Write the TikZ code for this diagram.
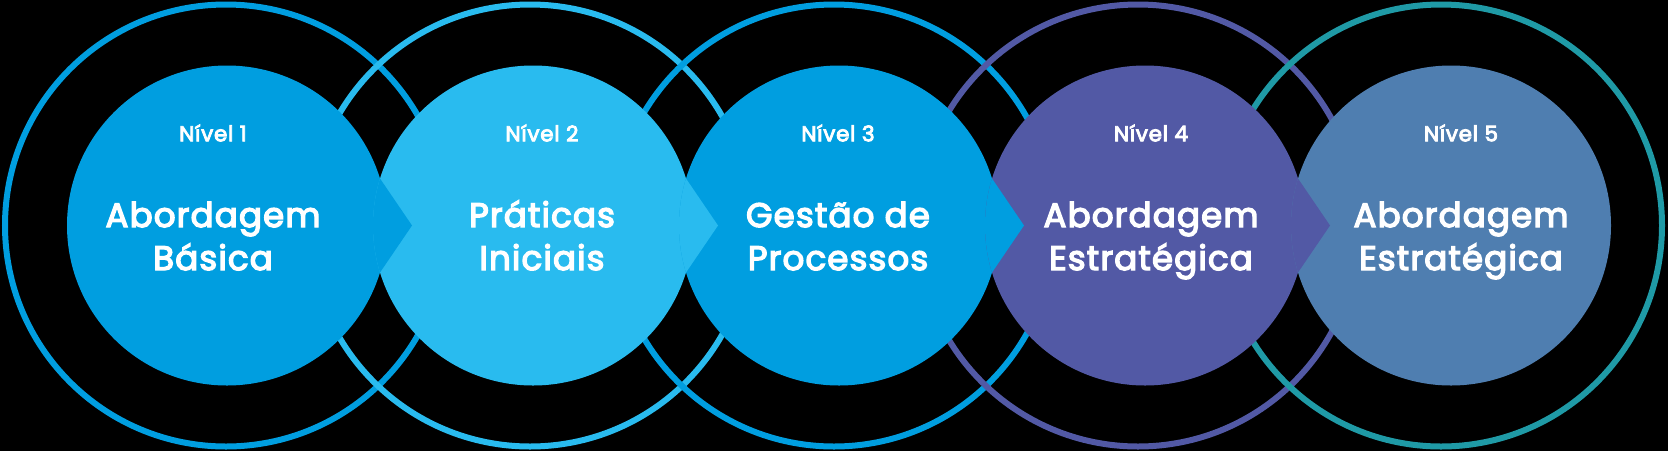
\documentclass[tikz,border=0pt]{standalone}
\usepackage{fontspec}
\setmainfont{Poppins}
\newfontfamily\labelfont{Poppins}[FakeBold=4,LetterSpace=3.5]
\usetikzlibrary{calc}

\definecolor{blueA}{HTML}{009EE0}
\definecolor{blueB}{HTML}{29BBEF}
\definecolor{purpleD}{HTML}{5259A5}
\definecolor{steelE}{HTML}{4F7EB0}
\definecolor{tealE}{HTML}{1F9AA6}

\tikzset{
  ring/.style={line width=6pt},
  level/.style={white,font=\labelfont\fontsize{21.5}{26}\selectfont},
  title/.style={white,anchor=base,font=\labelfont\fontsize{34}{40}\selectfont}
}

\begin{document}
\begin{tikzpicture}[x=1pt,y=-1pt]
\def\R{221}
\def\r{160}
\def\tip{32}
\def\notch{47}

\fill[black] (0,0) rectangle (1668,451);
\useasboundingbox (0,0) rectangle (1668,451);

% ring centres
\coordinate (R1) at (226,225.5);
\coordinate (R2) at (530,225.5);
\coordinate (R3) at (834,225.5);
\coordinate (R4) at (1138,225.5);
\coordinate (R5) at (1441,225.5);

% disc centres
\coordinate (C1) at (227,225.5);
\coordinate (C2) at (533,225.5);
\coordinate (C3) at (839,225.5);
\coordinate (C4) at (1145,225.5);
\coordinate (C5) at (1451,225.5);

\draw[ring,blueA]   (R1) circle[radius=\R];
\draw[ring,blueB]   (R2) circle[radius=\R];
\draw[ring,blueA]   (R3) circle[radius=\R];
\draw[ring,purpleD] (R4) circle[radius=\R];
\draw[ring,tealE]   (R5) circle[radius=\R];

\fill[blueA]   (C1) circle[radius=\r];
\fill[blueB]   (C2) circle[radius=\r];
\begin{scope}
  \clip (C2) circle[radius=\r];
  \fill[blueA] ($(C1)!0.5!(C2)+(0,-\notch)$) -- ($(C1)!0.5!(C2)+(\tip,0)$)
    -- ($(C1)!0.5!(C2)+(0,\notch)$) -- ++(-30,0) -- ++(0,-94) -- cycle;
\end{scope}
\fill[blueA]   (C3) circle[radius=\r];
\begin{scope}
  \clip (C3) circle[radius=\r];
  \fill[blueB] ($(C2)!0.5!(C3)+(0,-\notch)$) -- ($(C2)!0.5!(C3)+(\tip,0)$)
    -- ($(C2)!0.5!(C3)+(0,\notch)$) -- ++(-30,0) -- ++(0,-94) -- cycle;
\end{scope}
\fill[purpleD] (C4) circle[radius=\r];
\begin{scope}
  \clip (C4) circle[radius=\r];
  \fill[blueA] ($(C3)!0.5!(C4)+(0,-\notch)$) -- ($(C3)!0.5!(C4)+(\tip,0)$)
    -- ($(C3)!0.5!(C4)+(0,\notch)$) -- ++(-30,0) -- ++(0,-94) -- cycle;
\end{scope}
\fill[steelE]  (C5) circle[radius=\r];
\begin{scope}
  \clip (C5) circle[radius=\r];
  \fill[purpleD] ($(C4)!0.5!(C5)+(0,-\notch)$) -- ($(C4)!0.5!(C5)+(\tip,0)$)
    -- ($(C4)!0.5!(C5)+(0,\notch)$) -- ++(-30,0) -- ++(0,-94) -- cycle;
\end{scope}

% labels
\node[level] (n1) at (213,133) {Nível 1};
\node[title] (a1) at (213,227) {Abordagem};
\node[title] (b1) at (213,270) {Básica};

\node[level] (n2) at (542,133) {Nível 2};
\node[title] (a2) at (542,227) {Práticas};
\node[title] (b2) at (542,270) {Iniciais};

\node[level] (n3) at (838,133) {Nível 3};
\node[title] (a3) at (838,227) {Gestão de};
\node[title] (b3) at (838,270) {Processos};

\node[level] (n4) at (1151,133) {Nível 4};
\node[title] (a4) at (1151,227) {Abordagem};
\node[title] (b4) at (1151,270) {Estratégica};

\node[level] (n5) at (1461,133) {Nível 5};
\node[title] (a5) at (1461,227) {Abordagem};
\node[title] (b5) at (1461,270) {Estratégica};

\end{tikzpicture}
\end{document}
